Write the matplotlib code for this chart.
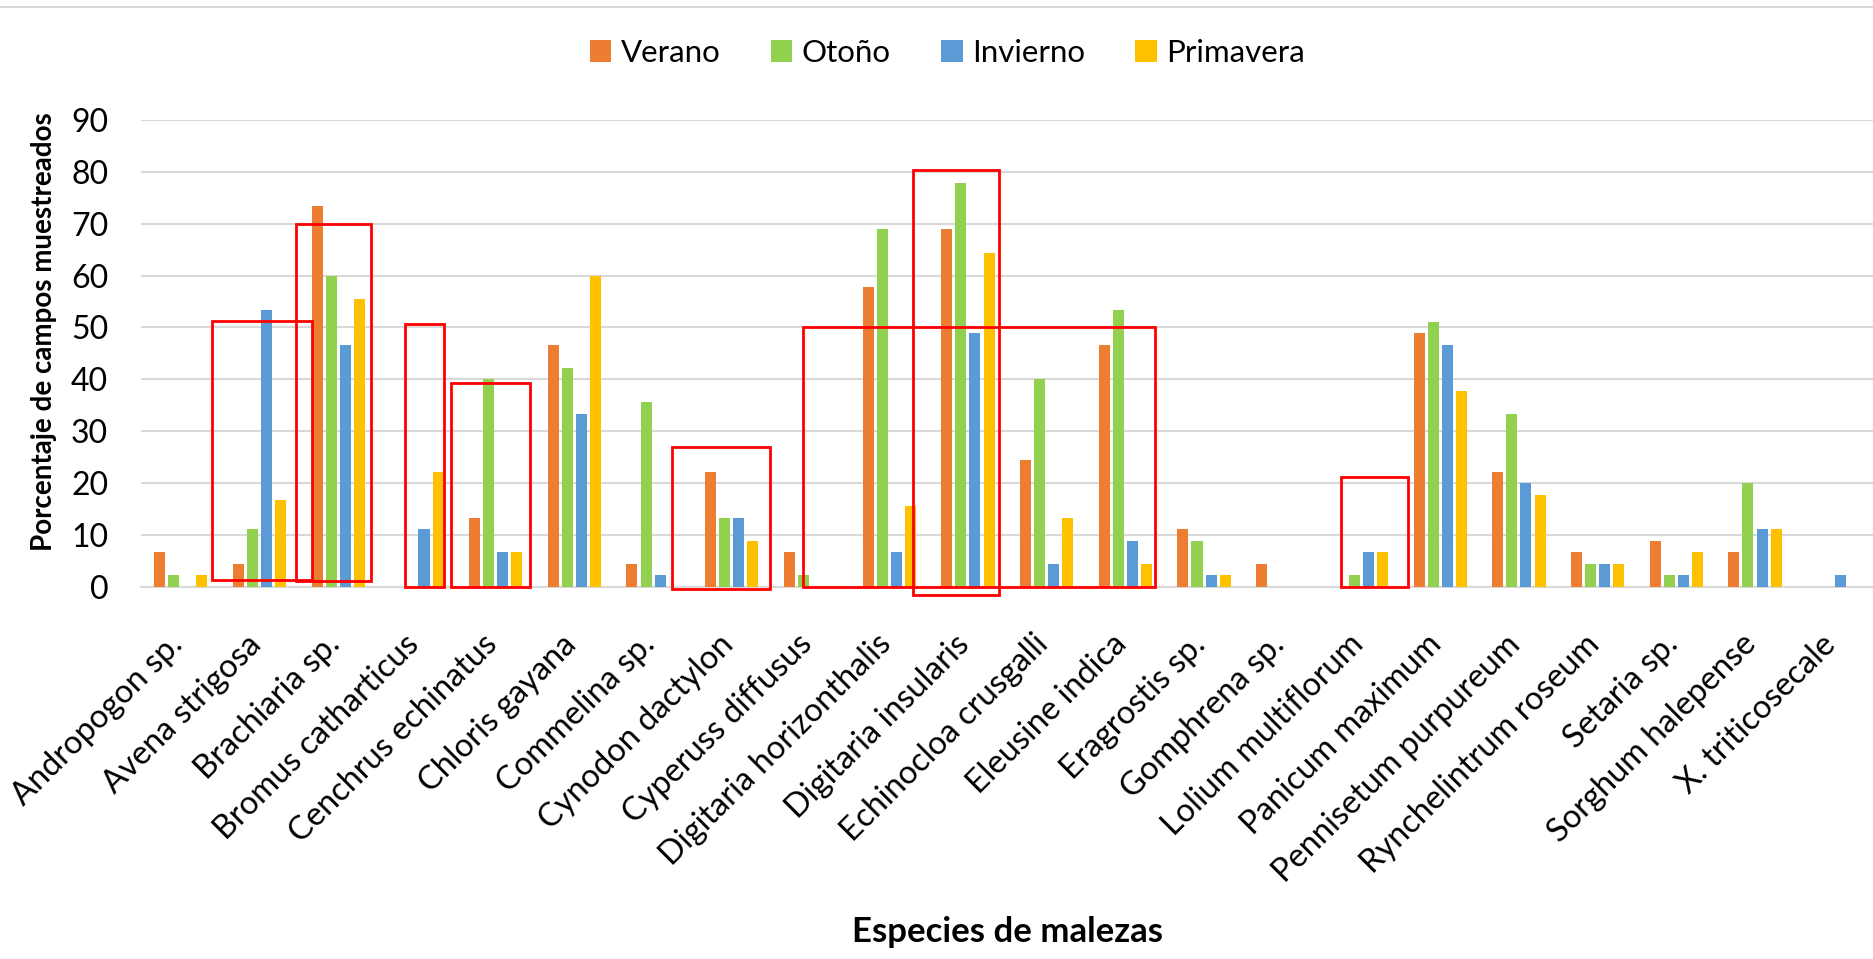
import matplotlib
matplotlib.use("Agg")
import matplotlib.pyplot as plt
import matplotlib.transforms as mtransforms
import numpy as np
from matplotlib.lines import Line2D
from matplotlib.patches import Rectangle

plt.rcParams['font.family'] = ['Lato', 'DejaVu Sans']

especies = ["Andropogon sp.", "Avena strigosa", "Brachiaria sp.", "Bromus catharticus",
            "Cenchrus echinatus", "Chloris gayana", "Commelina sp.", "Cynodon dactylon",
            "Cyperuss diffusus", "Digitaria horizonthalis", "Digitaria insularis",
            "Echinocloa crusgalli", "Eleusine indica", "Eragrostis sp.", "Gomphrena sp.",
            "Lolium multiflorum", "Panicum maximum", "Pennisetum purpureum",
            "Rynchelintrum roseum", "Setaria sp.", "Sorghum halepense", "X. triticosecale"]

verano = [6.67, 4.44, 73.33, 0, 13.33, 46.67, 4.44, 22.22, 6.67, 57.78, 68.89,
          24.44, 46.67, 11.11, 4.44, 0, 48.89, 22.22, 6.67, 8.89, 6.67, 0]
otono = [2.22, 11.11, 60.0, 0, 40.0, 42.22, 35.56, 13.33, 2.22, 68.89, 77.78,
         40.0, 53.33, 8.89, 0, 2.22, 51.11, 33.33, 4.44, 2.22, 20.0, 0]
invierno = [0, 53.33, 46.67, 11.11, 6.67, 33.33, 2.22, 13.33, 0, 6.67, 48.89,
            4.44, 8.89, 2.22, 0, 6.67, 46.67, 20.0, 4.44, 2.22, 11.11, 2.22]
primavera = [2.22, 16.67, 55.56, 22.22, 6.67, 60.0, 0, 8.89, 0, 15.56, 64.44,
             13.33, 4.44, 2.22, 0, 6.67, 37.78, 17.78, 4.44, 6.67, 11.11, 0]

series = [("Verano", verano, "#ED7D31"), ("Otoño", otono, "#92D050"),
          ("Invierno", invierno, "#5B9BD5"), ("Primavera", primavera, "#FFC000")]

# red highlight boxes: (x0, x1, y0, y1) in data units
cajas = [(0.40, 1.67, 1.3, 51.3), (1.46, 2.41, 1.1, 70.0), (2.85, 3.34, 0.0, 50.7),
         (3.43, 4.43, 0.0, 39.3), (6.24, 7.48, -0.4, 27.0), (7.91, 12.38, 0.0, 50.0),
         (9.30, 10.39, -1.6, 80.3), (14.74, 15.59, -0.1, 21.2)]

fig = plt.figure(figsize=(18.74, 9.59), dpi=100)
ax = fig.add_axes([0.0755, 0.388, 0.924, 0.487])

x = np.arange(len(especies))
paso = 0.179
for k, (nombre, vals, color) in enumerate(series):
    ax.bar(x + (k - 1.5) * paso, vals, width=0.14, color=color, label=nombre, zorder=3)

for (x0, x1, y0, y1) in cajas:
    ax.add_patch(Rectangle((x0, y0), x1 - x0, y1 - y0, fill=False, edgecolor="#FF0000",
                           linewidth=2.0, zorder=5, clip_on=False))

ax.set_xlim(-0.5, len(especies) - 0.5)
ax.set_ylim(0, 90)
ax.set_yticks(range(0, 91, 10))
ax.yaxis.grid(True, color="#D9D9D9", linewidth=1.5, zorder=0)
ax.set_axisbelow(True)
for s in ["top", "right", "left"]:
    ax.spines[s].set_visible(False)
ax.spines["bottom"].set_color("#D9D9D9")
ax.spines["bottom"].set_linewidth(1.5)
ax.tick_params(axis="y", length=0, labelsize=23, pad=24)
ax.set_xticks(x)
ax.set_xticklabels(especies, rotation=45, ha="right", va="center", rotation_mode="anchor")
ax.tick_params(axis="x", length=0, labelsize=23.4, pad=38)
desplaza = mtransforms.ScaledTranslation(-0.03, 0, fig.dpi_scale_trans)
for lbl in ax.get_xticklabels():
    lbl.set_transform(lbl.get_transform() + desplaza)

ax.set_ylabel("Porcentaje de campos muestreados", fontsize=20, fontweight="bold")
ax.yaxis.set_label_coords(-0.049, 0.547)
ax.set_xlabel("Especies de malezas", fontsize=25, fontweight="bold")
ax.xaxis.set_label_coords(0.5, -0.705)

fig.legend(loc="center", bbox_to_anchor=(0.5055, 0.945), ncol=4, frameon=False,
           fontsize=22.5, handlelength=0.7, handleheight=0.7, handletextpad=0.3,
           columnspacing=1.6)

fig.add_artist(Line2D([0, 1], [0.993, 0.993], color="#D9D9D9", linewidth=1.5))

plt.savefig("out.png", dpi=100)
